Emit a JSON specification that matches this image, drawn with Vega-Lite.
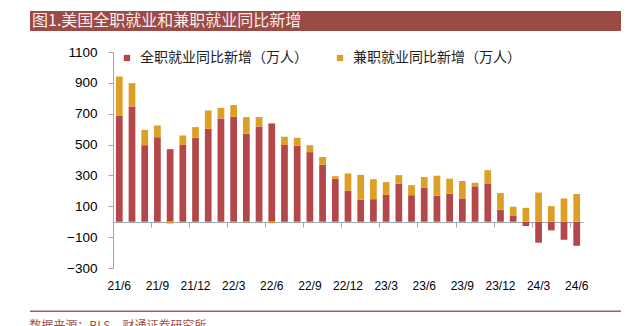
{
  "$schema": "https://vega.github.io/schema/vega-lite/v6.json",
  "padding": {"left": 29, "top": 11, "right": 10, "bottom": 0},
  "spacing": 14,
  "config": {"view": {"stroke": null}, "font": "Liberation Sans"},
  "resolve": {"legend": {"color": "independent"}},
  "vconcat": [
    {
      "width": 591,
      "height": 20,
      "view": {"fill": "#9B4A46", "stroke": null},
      "data": {"values": [{}]},
      "mark": {"type": "text", "text": ""},
      "encoding": {},
      "title": {
        "text": "图1.美国全职就业和兼职就业同比新增",
        "anchor": "start",
        "orient": "top",
        "offset": -18,
        "dx": 2,
        "color": "#F8EEEC",
        "font": "Noto Sans CJK SC",
        "fontSize": 16,
        "fontWeight": "normal"
      }
    },
    {
      "width": 591,
      "height": 216,
      "data": {
        "values": [
          {"m": "21/6", "全职就业同比新增（万人）": 686, "兼职就业同比新增（万人）": 255},
          {"m": "21/7", "全职就业同比新增（万人）": 747, "兼职就业同比新增（万人）": 151},
          {"m": "21/8", "全职就业同比新增（万人）": 496, "兼职就业同比新增（万人）": 99},
          {"m": "21/9", "全职就业同比新增（万人）": 548, "兼职就业同比新增（万人）": 76},
          {"m": "21/10", "全职就业同比新增（万人）": 470, "兼职就业同比新增（万人）": -12},
          {"m": "21/11", "全职就业同比新增（万人）": 498, "兼职就业同比新增（万人）": 61},
          {"m": "21/12", "全职就业同比新增（万人）": 544, "兼职就业同比新增（万人）": 69},
          {"m": "22/1", "全职就业同比新增（万人）": 602, "兼职就业同比新增（万人）": 119},
          {"m": "22/2", "全职就业同比新增（万人）": 669, "兼职就业同比新增（万人）": 69},
          {"m": "22/3", "全职就业同比新增（万人）": 680, "兼职就业同比新增（万人）": 76},
          {"m": "22/4", "全职就业同比新增（万人）": 570, "兼职就业同比新增（万人）": 108},
          {"m": "22/5", "全职就业同比新增（万人）": 617, "兼职就业同比新增（万人）": 61},
          {"m": "22/6", "全职就业同比新增（万人）": 637, "兼职就业同比新增（万人）": -10},
          {"m": "22/7", "全职就业同比新增（万人）": 498, "兼职就业同比新增（万人）": 52},
          {"m": "22/8", "全职就业同比新增（万人）": 492, "兼职就业同比新增（万人）": 52},
          {"m": "22/9", "全职就业同比新增（万人）": 451, "兼职就业同比新增（万人）": 45},
          {"m": "22/10", "全职就业同比新增（万人）": 369, "兼职就业同比新增（万人）": 50},
          {"m": "22/11", "全职就业同比新增（万人）": 278, "兼职就业同比新增（万人）": 17},
          {"m": "22/12", "全职就业同比新增（万人）": 200, "兼职就业同比新增（万人）": 113},
          {"m": "23/1", "全职就业同比新增（万人）": 142, "兼职就业同比新增（万人）": 162},
          {"m": "23/2", "全职就业同比新增（万人）": 146, "兼职就业同比新增（万人）": 130},
          {"m": "23/3", "全职就业同比新增（万人）": 174, "兼职就业同比新增（万人）": 83},
          {"m": "23/4", "全职就业同比新增（万人）": 246, "兼职就业同比新增（万人）": 56},
          {"m": "23/5", "全职就业同比新增（万人）": 172, "兼职就业同比新增（万人）": 65},
          {"m": "23/6", "全职就业同比新增（万人）": 221, "兼职就业同比新增（万人）": 69},
          {"m": "23/7", "全职就业同比新增（万人）": 169, "兼职就业同比新增（万人）": 129},
          {"m": "23/8", "全职就业同比新增（万人）": 181, "兼职就业同比新增（万人）": 98},
          {"m": "23/9", "全职就业同比新增（万人）": 151, "兼职就业同比新增（万人）": 113},
          {"m": "23/10", "全职就业同比新增（万人）": 229, "兼职就业同比新增（万人）": 23},
          {"m": "23/11", "全职就业同比新增（万人）": 248, "兼职就业同比新增（万人）": 86},
          {"m": "23/12", "全职就业同比新增（万人）": 78, "兼职就业同比新增（万人）": 108},
          {"m": "24/1", "全职就业同比新增（万人）": 41, "兼职就业同比新增（万人）": 56},
          {"m": "24/2", "全职就业同比新增（万人）": -28, "兼职就业同比新增（万人）": 90},
          {"m": "24/3", "全职就业同比新增（万人）": -136, "兼职就业同比新增（万人）": 189},
          {"m": "24/4", "全职就业同比新增（万人）": -56, "兼职就业同比新增（万人）": 101},
          {"m": "24/5", "全职就业同比新增（万人）": -117, "兼职就业同比新增（万人）": 151},
          {"m": "24/6", "全职就业同比新增（万人）": -156, "兼职就业同比新增（万人）": 179}
        ]
      },
      "transform": [
        {"fold": ["全职就业同比新增（万人）", "兼职就业同比新增（万人）"], "as": ["类型", "值"]}
      ],
      "layer": [
        {
          "mark": {"type": "bar"},
          "encoding": {
            "x": {
              "field": "m",
              "type": "ordinal",
              "sort": null,
              "scale": {"range": [83, 553], "paddingInner": 0.47, "paddingOuter": 0.23},
              "axis": {
                "orient": "bottom",
                "title": null,
                "values": ["21/6", "21/9", "21/12", "22/3", "22/6", "22/9", "22/12", "23/3", "23/6", "23/9", "23/12", "24/3", "24/6"],
                "domain": false,
                "ticks": false,
                "tickSize": 0,
                "labelAngle": 0,
                "labelPadding": 12,
                "labelFont": "Liberation Sans",
                "labelFontSize": 12,
                "labelColor": "#000000",
                "grid": false
              }
            },
            "y": {
              "field": "值",
              "type": "quantitative",
              "stack": "zero",
              "scale": {"domain": [-300, 1100], "nice": false, "zero": false},
              "axis": {
                "orient": "left",
                "offset": -83,
                "title": null,
                "format": "d",
                "values": [-300, -100, 100, 300, 500, 700, 900, 1100],
                "grid": false,
                "domainColor": "#A6A6A6",
                "tickColor": "#A6A6A6",
                "tickSize": 5,
                "labelPadding": 11,
                "labelFont": "Liberation Sans",
                "labelFontSize": 13.5,
                "labelColor": "#000000"
              }
            },
            "color": {
              "field": "类型",
              "type": "nominal",
              "sort": ["全职就业同比新增（万人）", "兼职就业同比新增（万人）"],
              "scale": {
                "domain": ["全职就业同比新增（万人）", "兼职就业同比新增（万人）"],
                "range": ["#B3474A", "#DDA027"]
              },
              "legend": {
                "orient": "none",
                "legendX": 90,
                "legendY": -1,
                "direction": "horizontal",
                "title": null,
                "symbolType": "square",
                "symbolSize": 40,
                "symbolStrokeWidth": 0,
                "labelFont": "Noto Sans CJK SC",
                "labelFontSize": 14,
                "labelColor": "#222222",
                "labelOffset": 6,
                "columnPadding": 25,
                "padding": 0,
                "labelLimit": 300
              }
            },
            "order": {"field": "类型", "sort": "ascending"}
          }
        },
        {
          "mark": {"type": "tick", "opacity": 0},
          "encoding": {
            "x": {
              "field": "m",
              "type": "ordinal",
              "sort": null,
              "axis": {
                "orient": "bottom",
                "offset": -46,
                "title": null,
                "values": ["21/9", "21/12", "22/3", "22/6", "22/9", "22/12", "23/3", "23/6", "23/9", "23/12", "24/3", "24/6"],
                "bandPosition": -0.44,
                "labels": false,
                "domain": true,
                "domainColor": "#A6A6A6",
                "tickColor": "#A6A6A6",
                "tickSize": 5,
                "grid": false
              }
            }
          }
        }
      ],
      "resolve": {"axis": {"x": "independent"}}
    },
    {
      "width": 591,
      "height": 7,
      "data": {"values": [{}]},
      "mark": {"type": "rule", "color": "#A85F5B", "strokeWidth": 1.5},
      "encoding": {
        "y": {"datum": 0.1, "type": "quantitative", "scale": {"domain": [0, 1]}, "axis": null}
      },
      "title": {
        "text": "数据来源：BLS，财通证券研究所",
        "anchor": "start",
        "orient": "bottom",
        "offset": 9,
        "color": "#A3514C",
        "font": "Noto Sans CJK SC",
        "fontSize": 12,
        "fontWeight": "normal"
      }
    }
  ]
}
